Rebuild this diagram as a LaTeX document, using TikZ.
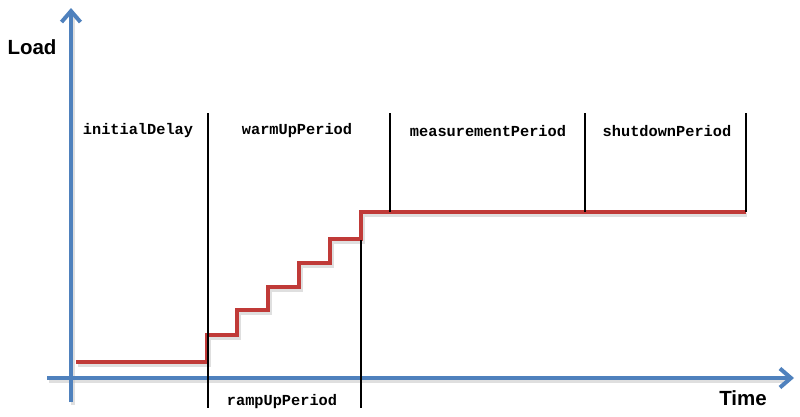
\documentclass[tikz,border=0pt]{standalone}
\usepackage{fontspec}
\setmainfont{Liberation Sans}
\setmonofont{Liberation Mono}
\usetikzlibrary{arrows.meta}
\definecolor{axisblue}{RGB}{79,129,189}
\definecolor{loadred}{RGB}{192,58,56}
\tikzset{
  axisline/.style={draw=axisblue, line width=4pt, -{Straight Barb[length=11pt,width=19pt,line width=4pt]}},
  axisplain/.style={draw=axisblue, line width=4pt},
  loadline/.style={draw=loadred, line width=3.6pt, line join=miter},
  shadowline/.style={draw=black!25, line width=4pt, opacity=0.5},
  divider/.style={draw=black, line width=2pt},
  phase/.style={font=\ttfamily\bfseries\fontsize{15.3}{16}\selectfont, text=black, inner sep=0pt},
  axislabel/.style={font=\bfseries\fontsize{20.5}{22}\selectfont, text=black, inner sep=0pt}
}
\begin{document}
\begin{tikzpicture}[x=1pt,y=-1pt]
\useasboundingbox (0,0) rectangle (800,416);
% coordinates
\coordinate (ybot) at (71,402);
\coordinate (ytop) at (71,8);
\coordinate (xleft) at (47,378);
\coordinate (xright) at (794,378);
% shadows
\draw[shadowline] (73,405) -- (73,14);
\draw[shadowline] (49,381) -- (788,381);
\draw[shadowline] (78,365) -- (209,365) -- (209,338) -- (239,338) -- (239,313) -- (270,313) -- (270,290) -- (301,290) -- (301,266) -- (332,266) -- (332,242) -- (363,242) -- (363,215) -- (747,215);
% axes
\draw[axisline] (ybot) -- (ytop);
\draw[axisline] (xleft) -- (xright);
% dividers
\coordinate (d1t) at (208,113); \coordinate (d1b) at (208,408);
\coordinate (d2t) at (361,240); \coordinate (d2b) at (361,408);
\coordinate (d3t) at (390,113); \coordinate (d3b) at (390,212);
\coordinate (d4t) at (585,113); \coordinate (d4b) at (585,212);
\coordinate (d5t) at (746,113); \coordinate (d5b) at (746,212);
% load curve
\draw[loadline] (76,362) -- (207,362) -- (207,335) -- (237,335) -- (237,310) -- (268,310) -- (268,287) -- (299,287) -- (299,263) -- (330,263) -- (330,239) -- (361,239) -- (361,212) -- (746,212);
\draw[divider] (d1t) -- (d1b);
\draw[divider] (d2t) -- (d2b);
\draw[divider] (d3t) -- (d3b);
\draw[divider] (d4t) -- (d4b);
\draw[divider] (d5t) -- (d5b);
% labels
\node[axislabel] (load) at (32,47) {Load};
\node[axislabel] (time) at (743,398) {Time};
\node[phase] (init) at (138,131) {initialDelay};
\node[phase] (warm) at (297,131) {warmUpPeriod};
\node[phase] (meas) at (488,131) {measurementPeriod};
\node[phase] (shut) at (667,131) {shutdownPeriod};
\node[phase] (ramp) at (282,402) {rampUpPeriod};
\end{tikzpicture}
\end{document}
